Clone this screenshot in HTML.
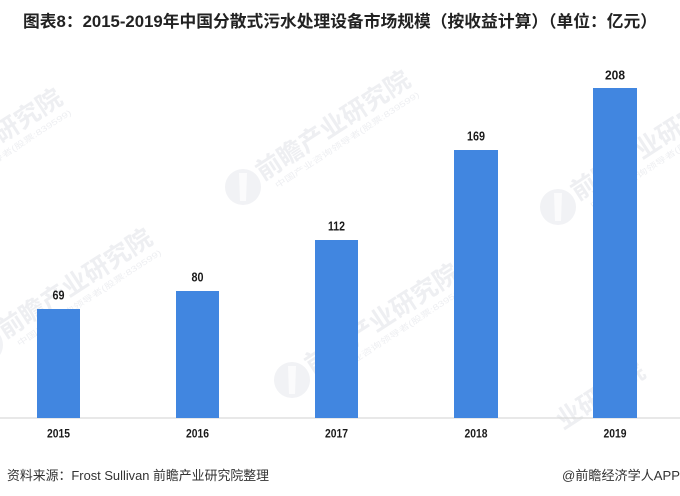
<!DOCTYPE html>
<html><head><meta charset="utf-8"><style>
html,body{margin:0;padding:0;background:#fff;width:680px;height:496px;overflow:hidden;}
svg{display:block;overflow:hidden;}
</style></head><body>
<svg width="680" height="496" viewBox="0 0 680 496" xmlns="http://www.w3.org/2000/svg">
<defs><clipPath id="c"><rect x="0" y="0" width="680" height="457"/></clipPath></defs>
<rect width="680" height="496" fill="#fff"/>
<g clip-path="url(#c)" font-family="'Liberation Sans','Noto Sans CJK SC',sans-serif" font-weight="bold">
  <g transform="translate(243,187)">
    <circle r="18" fill="#f1f2f5"/><path d="M-4,-14 L4,-14 L3,14 L-3,14 Z" fill="#fbfbfc"/>
    <g transform="rotate(-33)"><text x="20" y="6" font-size="25" fill="#eeeff2" textLength="178" lengthAdjust="spacingAndGlyphs">前瞻产业研究院</text>
    <text x="28" y="20" font-size="8" font-weight="normal" fill="#eeeff2" textLength="170" lengthAdjust="spacingAndGlyphs">中国产业咨询领导者(股票:839599)</text></g>
  </g>
  <g transform="translate(558,207)">
    <circle r="18" fill="#f1f2f5"/><path d="M-4,-14 L4,-14 L3,14 L-3,14 Z" fill="#fbfbfc"/>
    <g transform="rotate(-33)"><text x="20" y="6" font-size="25" fill="#eeeff2" textLength="178" lengthAdjust="spacingAndGlyphs">前瞻产业研究院</text>
    <text x="28" y="20" font-size="8" font-weight="normal" fill="#eeeff2" textLength="170" lengthAdjust="spacingAndGlyphs">中国产业咨询领导者(股票:839599)</text></g>
  </g>
  <g transform="translate(292,380)">
    <circle r="18" fill="#f1f2f5"/><path d="M-4,-14 L4,-14 L3,14 L-3,14 Z" fill="#fbfbfc"/>
    <g transform="rotate(-33)"><text x="20" y="6" font-size="25" fill="#eeeff2" textLength="178" lengthAdjust="spacingAndGlyphs">前瞻产业研究院</text>
    <text x="28" y="20" font-size="8" font-weight="normal" fill="#eeeff2" textLength="170" lengthAdjust="spacingAndGlyphs">中国产业咨询领导者(股票:839599)</text></g>
  </g>
  <g transform="translate(-15,345)">
    <circle r="18" fill="#f1f2f5"/>
    <g transform="rotate(-33)"><text x="20" y="6" font-size="25" fill="#eeeff2" textLength="178" lengthAdjust="spacingAndGlyphs">前瞻产业研究院</text>
    <text x="28" y="20" font-size="8" font-weight="normal" fill="#eeeff2" textLength="170" lengthAdjust="spacingAndGlyphs">中国产业咨询领导者(股票:839599)</text></g>
  </g>
  <g transform="translate(-105,205)">
    <circle r="18" fill="#f1f2f5"/>
    <g transform="rotate(-33)"><text x="20" y="6" font-size="25" fill="#eeeff2" textLength="178" lengthAdjust="spacingAndGlyphs">前瞻产业研究院</text>
    <text x="28" y="20" font-size="8" font-weight="normal" fill="#eeeff2" textLength="170" lengthAdjust="spacingAndGlyphs">中国产业咨询领导者(股票:839599)</text></g>
  </g>
  <g transform="translate(560,425)">
    <g transform="rotate(-33)"><text x="0" y="6" font-size="25" fill="#eeeff2" textLength="100" lengthAdjust="spacingAndGlyphs">业研究院</text></g>
  </g>
</g>

<text x="23" y="27" font-family="'Liberation Sans','Noto Sans CJK SC',sans-serif" font-weight="bold" font-size="16.5" fill="#222" textLength="634" lengthAdjust="spacingAndGlyphs">图表8：2015-2019年中国分散式污水处理设备市场规模（按收益计算）（单位：亿元）</text>

<line x1="0" y1="418" x2="680" y2="418" stroke="#d9d9d9" stroke-width="1.2"/>

<g fill="#4186e0">
  <rect x="37" y="309" width="43" height="109"/>
  <rect x="176" y="291" width="43" height="127"/>
  <rect x="315" y="240" width="43" height="178"/>
  <rect x="454" y="150" width="44" height="268"/>
  <rect x="593" y="88" width="44" height="330"/>
</g>

<g font-family="'Liberation Sans',sans-serif" font-weight="bold" font-size="12.5" fill="#1a1a1a" text-anchor="middle">
  <text x="58.5" y="299.5" textLength="12" lengthAdjust="spacingAndGlyphs">69</text>
  <text x="197.5" y="281.5" textLength="12" lengthAdjust="spacingAndGlyphs">80</text>
  <text x="336.5" y="230.5" textLength="17" lengthAdjust="spacingAndGlyphs">112</text>
  <text x="476" y="140.5" textLength="18" lengthAdjust="spacingAndGlyphs">169</text>
  <text x="615" y="79.5" textLength="20" lengthAdjust="spacingAndGlyphs">208</text>
</g>

<g font-family="'Liberation Sans',sans-serif" font-weight="bold" font-size="12" fill="#1a1a1a" text-anchor="middle">
  <text x="58.5" y="437.5" textLength="23" lengthAdjust="spacingAndGlyphs">2015</text>
  <text x="197.5" y="437.5" textLength="23" lengthAdjust="spacingAndGlyphs">2016</text>
  <text x="336.5" y="437.5" textLength="23" lengthAdjust="spacingAndGlyphs">2017</text>
  <text x="476" y="437.5" textLength="23" lengthAdjust="spacingAndGlyphs">2018</text>
  <text x="615" y="437.5" textLength="23" lengthAdjust="spacingAndGlyphs">2019</text>
</g>

<text x="7" y="480" font-family="'Liberation Sans','Noto Sans CJK SC',sans-serif" font-size="13" fill="#333" textLength="262" lengthAdjust="spacingAndGlyphs">资料来源：Frost Sullivan 前瞻产业研究院整理</text>
<text x="562" y="480" font-family="'Liberation Sans','Noto Sans CJK SC',sans-serif" font-size="13" fill="#333" textLength="118" lengthAdjust="spacingAndGlyphs">@前瞻经济学人APP</text>
</svg>
</body></html>
